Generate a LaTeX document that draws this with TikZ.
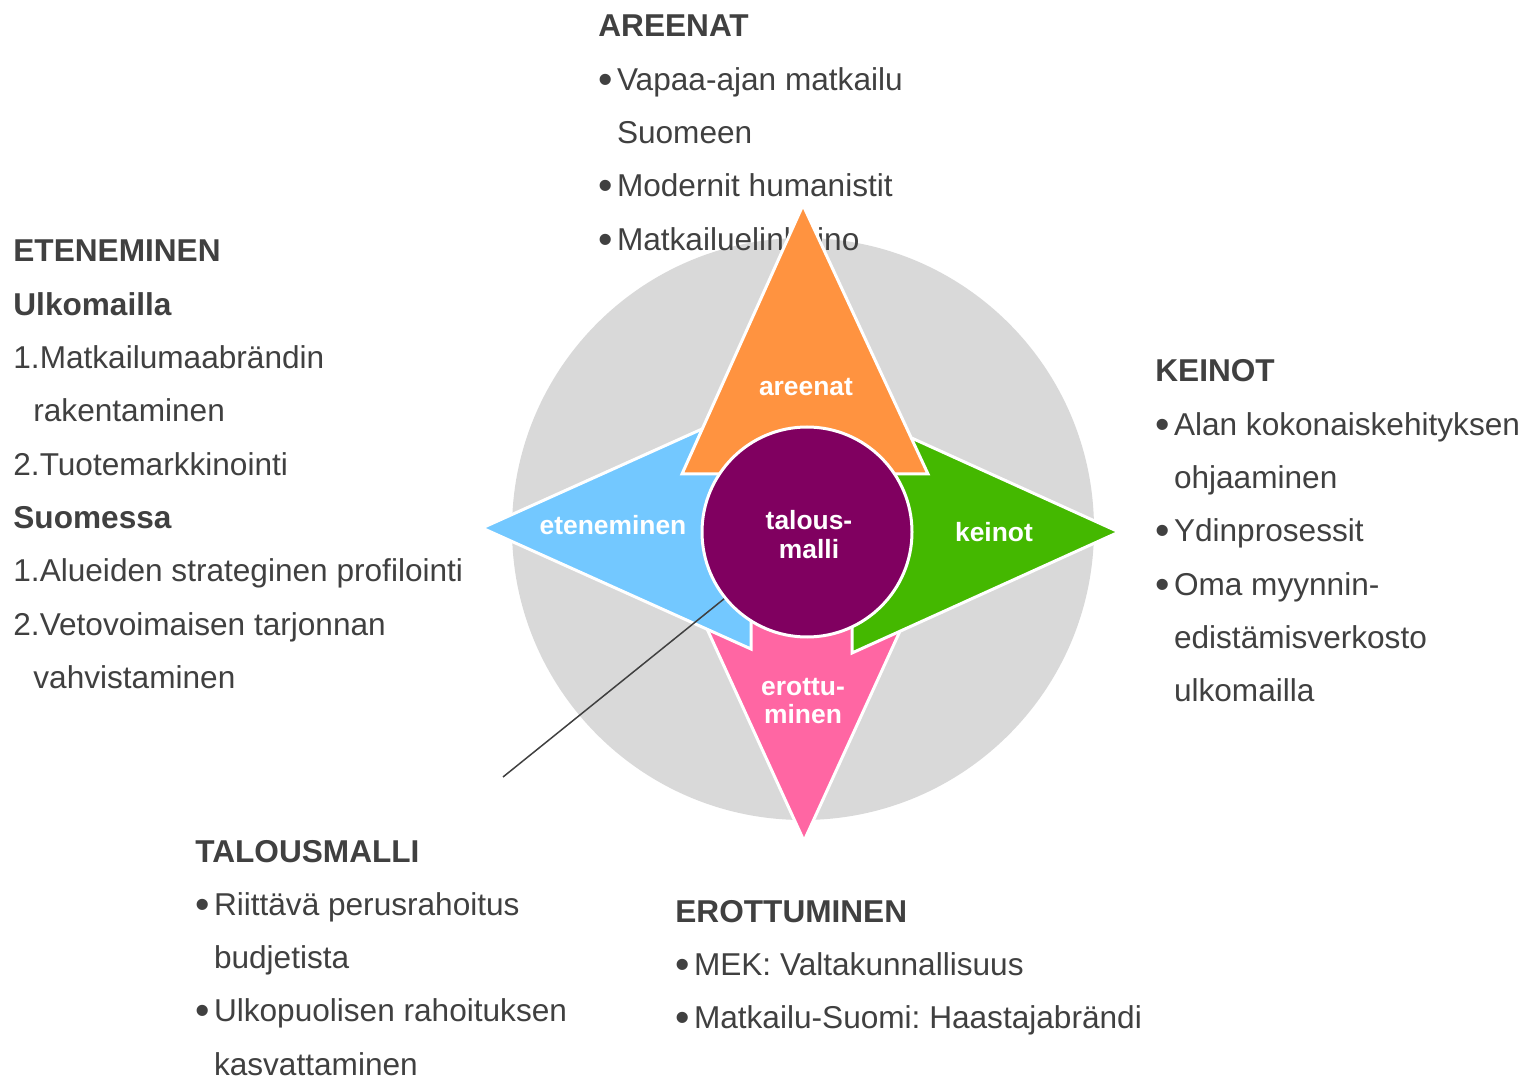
\documentclass[tikz,border=0pt]{standalone}
\usepackage{fontspec}
\setmainfont{Liberation Sans}
\usetikzlibrary{positioning}
\frenchspacing

\definecolor{txtgray}{HTML}{404040}
\definecolor{ringgray}{HTML}{D9D9D9}
\definecolor{areenaorange}{HTML}{FF9340}
\definecolor{etenblue}{HTML}{73C8FF}
\definecolor{keinogreen}{HTML}{44B800}
\definecolor{erotpink}{HTML}{FF66A3}
\definecolor{talouspurple}{HTML}{800060}

\newcommand{\bul}{\makebox[9.3pt][l]{\raisebox{-0.09em}{\scalebox{1.3}{\textbullet}}}}
\newcommand{\ind}{\hspace*{9.3pt}}
\newcommand{\numind}{\hspace*{10pt}}

\tikzset{
  block/.style={anchor=base west, inner sep=0pt, text=txtgray, font=\fontsize{15.8}{26.65}\selectfont},
  wedge/.style={draw=white, line width=1.5pt, line join=miter},
  lbl/.style={anchor=base, inner sep=0pt, text=white, font=\fontsize{13.2}{14.2}\selectfont\bfseries},
  hub/.style={circle, draw=white, line width=1.5pt, fill=talouspurple, minimum size=105pt, inner sep=0pt},
  leader/.style={draw=txtgray, line width=0.75pt},
}

\begin{document}
\begin{tikzpicture}[x=0.5pt, y=-0.5pt]
    \useasboundingbox (0,0) rectangle (1526,1079);

    % background disc
    \fill[ringgray] (803,529) circle (291);

    % text blocks
    \node[block] (areenat-txt) at (598,37) {
        \begin{tabular}[t]{@{}l@{}}
        \textbf{AREENAT}\\
        \bul Vapaa-ajan matkailu\\
        \ind Suomeen\\
        \bul Modernit humanistit\\
        \bul Matkailuelinkeino
        \end{tabular}
    };

    \node[block] (eteneminen-txt) at (13,262) {
        \begin{tabular}[t]{@{}l@{}}
        \textbf{ETENEMINEN}\\
        \textbf{Ulkomailla}\\
        1.Matkailumaabrändin\\
        \numind rakentaminen\\
        2.Tuotemarkkinointi\\
        \textbf{Suomessa}\\
        1.Alueiden strateginen profilointi\\
        2.Vetovoimaisen tarjonnan\\
        \numind vahvistaminen
        \end{tabular}
    };

    \node[block] (keinot-txt) at (1155,382) {
        \begin{tabular}[t]{@{}l@{}}
        \textbf{KEINOT}\\
        \bul Alan kokonaiskehityksen\\
        \ind ohjaaminen\\
        \bul Ydinprosessit\\
        \bul Oma myynnin-\\
        \ind edistämisverkosto\\
        \ind ulkomailla
        \end{tabular}
    };

    \node[block] (talous-txt) at (195,862) {
        \begin{tabular}[t]{@{}l@{}}
        \textbf{TALOUSMALLI}\\
        \bul Riittävä perusrahoitus\\
        \ind budjetista\\
        \bul Ulkopuolisen rahoituksen\\
        \ind kasvattaminen
        \end{tabular}
    };

    \node[block] (erottuminen-txt) at (675,922) {
        \begin{tabular}[t]{@{}l@{}}
        \textbf{EROTTUMINEN}\\
        \bul MEK: Valtakunnallisuus\\
        \bul Matkailu-Suomi: Haastajabrändi
        \end{tabular}
    };

    % compass points
    \filldraw[wedge, fill=erotpink] (681,572) -- (927,572) -- (804,841) -- cycle;
    \filldraw[wedge, fill=etenblue] (751,407) -- (751,649) -- (482,528) -- cycle;
    \filldraw[wedge, fill=keinogreen] (852,411) -- (852,653) -- (1119,532) -- cycle;
    \filldraw[wedge, fill=areenaorange] (682,474) -- (928,474) -- (803,205) -- cycle;

    % centre
    \node[hub] (talous) at (807,532) {};

    % pointer line
    \coordinate (lead) at (503,777);
    \draw[leader] (lead) -- (talous);

    % labels
    \node[lbl] (areenat) at (806,396) {areenat};
    \node[lbl] (eteneminen) at (613,535) {eteneminen};
    \node[lbl] (keinot) at (994,542) {keinot};
    \node[lbl] (erottuminen) at (803,695) {
        \begin{tabular}[t]{@{}c@{}}
        erottu-\\
        minen
        \end{tabular}
    };
    \node[lbl] (talousmalli) at (809,530) {
        \begin{tabular}[t]{@{}c@{}}
        talous-\\
        malli
        \end{tabular}
    };
\end{tikzpicture}
\end{document}
